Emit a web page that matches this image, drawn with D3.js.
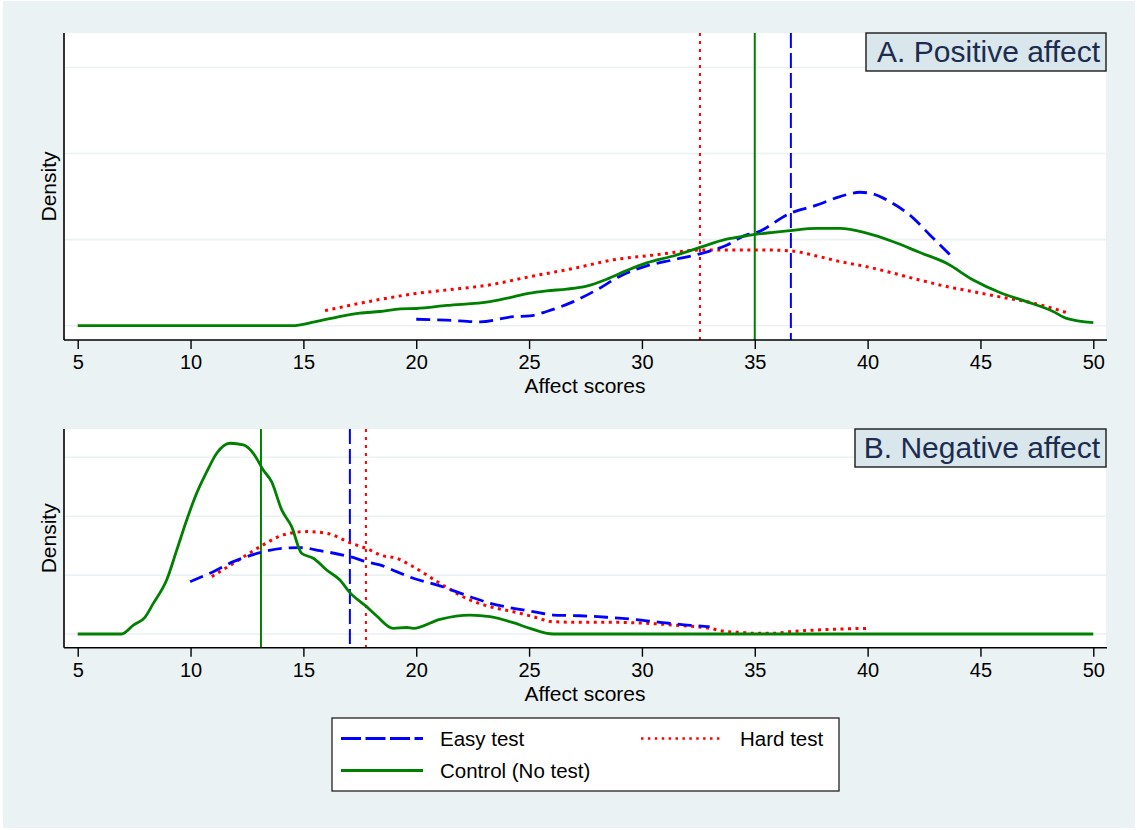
<!DOCTYPE html>
<html>
<head>
    <meta charset="UTF-8">
    <title>Affect score densities</title>
    <style type="text/css">
        body { margin: 0; background: #ffffff; }
        text { font-family: "Liberation Sans", Arial, sans-serif; }
    </style>
    <script src="https://d3js.org/d3.v7.min.js"></script>
</head>
<body>
<script type="text/javascript">
    // x ticks shared by both panels
    var xTicks = [5, 10, 15, 20, 25, 30, 35, 40, 45, 50];

    // panel A: positive affect, [score, density]
    var posEasy = [[20.0, 0.0015], [21.35, 0.0013], [22.83, 0.0009], [24.3, 0.0021], [25.04, 0.0023],
        [25.78, 0.0033], [26.96, 0.0056], [27.99, 0.0083], [29.03, 0.0115], [30.21, 0.0139],
        [31.39, 0.0153], [32.57, 0.0167], [33.75, 0.0187], [34.64, 0.0211], [35.0, 0.0215],
        [36.56, 0.0261], [37.74, 0.0280], [38.78, 0.0300], [39.66, 0.0310], [40.25, 0.0306],
        [40.99, 0.0288], [41.87, 0.0257], [42.76, 0.0211], [43.8, 0.0157]];
    var posHard = [[15.96, 0.0035], [18.39, 0.0061], [20.0, 0.0075], [21.35, 0.0083], [23.27, 0.0095],
        [25.04, 0.0114], [26.96, 0.0133], [28.73, 0.0153], [30.5, 0.0164], [31.69, 0.0172],
        [32.57, 0.0176], [35.23, 0.0176], [36.56, 0.0174], [37.74, 0.0162], [38.78, 0.0149],
        [39.96, 0.0137], [41.14, 0.0122], [42.32, 0.0106], [43.5, 0.0091], [44.68, 0.0079],
        [45.86, 0.0067], [47.04, 0.0056], [48.22, 0.0040], [48.89, 0.0029]];
    var posControl = [[5, 0], [10, 0], [14.5, 0], [15.5, 0.0009], [16.5, 0.0020], [17.5, 0.0029],
        [18.4, 0.0033], [19.3, 0.0039], [20.0, 0.0040], [21.35, 0.0047], [23.27, 0.0056],
        [24.3, 0.0067], [24.97, 0.0075], [25.78, 0.0081], [26.67, 0.0085], [27.55, 0.0092],
        [28.44, 0.0108], [29.32, 0.0128], [30.21, 0.0146], [31.39, 0.0162], [32.57, 0.0182],
        [33.75, 0.0201], [34.64, 0.0209], [35.0, 0.0212], [35.82, 0.0217], [36.56, 0.0221],
        [37.74, 0.0226], [38.78, 0.0226], [39.96, 0.0215], [41.14, 0.0195], [42.32, 0.0170],
        [43.5, 0.0145], [44.68, 0.0106], [45.86, 0.0077], [47.04, 0.0056], [48.22, 0.0033],
        [48.81, 0.0017], [50.0, 0.0007]];
    var posMeans = {easy: 36.6, hard: 32.57, control: 35.0};
    var posGrid = [0, 0.02, 0.04, 0.06];

    // panel B: negative affect
    var negEasy = [[9.98, 0.0444], [11.01, 0.0529], [11.9, 0.0614], [13.08, 0.0690], [14.11, 0.0728],
        [14.85, 0.0733], [15.74, 0.0707], [17.06, 0.0656], [17.95, 0.0605], [18.39, 0.0586],
        [19.13, 0.0529], [19.87, 0.0473], [21.05, 0.0408], [22.38, 0.0317], [23.27, 0.0261],
        [24.3, 0.0218], [25.18, 0.0190], [26.07, 0.0161], [27.25, 0.0155], [28.44, 0.0142],
        [29.62, 0.0125], [30.8, 0.0099], [31.98, 0.0076], [33.0, 0.0062]];
    var negHard = [[10.94, 0.0487], [11.9, 0.0600], [13.08, 0.0741], [14.11, 0.0841], [15.15, 0.0869],
        [16.03, 0.0855], [17.06, 0.0775], [17.95, 0.0713], [18.39, 0.0671], [19.13, 0.0643],
        [19.87, 0.0571], [21.05, 0.0430], [22.38, 0.0289], [23.27, 0.0232], [24.3, 0.0189],
        [25.18, 0.0147], [26.07, 0.0104], [27.25, 0.0099], [28.73, 0.0099], [30.21, 0.0091],
        [31.39, 0.0076], [33.0, 0.0048], [33.75, 0.0020], [34.35, 0.0014], [35.0, 0.0006],
        [35.82, 0.0006], [36.56, 0.0020], [37.74, 0.0034], [38.78, 0.0042], [40.03, 0.0048]];
    var negControl = [[5, 0], [6.95, 0], [7.47, 0.0076], [7.98, 0.0142], [8.35, 0.0260], [8.94, 0.0458],
        [9.39, 0.0713], [9.83, 0.0968], [10.27, 0.1194], [10.72, 0.1378], [11.16, 0.1534],
        [11.75, 0.1619], [12.34, 0.1605], [12.78, 0.1534], [13.22, 0.1392], [13.59, 0.1293],
        [14.04, 0.1053], [14.48, 0.0911], [14.92, 0.0685], [15.44, 0.0643], [16.03, 0.0543],
        [16.62, 0.0458], [17.06, 0.0351], [17.8, 0.0232], [18.25, 0.0153], [18.98, 0.0048],
        [19.58, 0.0055], [19.87, 0.0048], [21.05, 0.0125], [22.38, 0.0161], [23.27, 0.0147],
        [24.3, 0.0096], [25.04, 0.0048], [26.07, 0], [30, 0], [40, 0], [50, 0]];
    var negMeans = {easy: 17.06, hard: 17.77, control: 13.12};
    var negGrid = [0, 0.05, 0.10, 0.15];

    var legendLabels = ["Easy test", "Hard test", "Control (No test)"];

    var W = 1137, H = 830;
    var styles = {
        easy: {color: "#0000ff", dash: "14,7", dashV: "15,5"},
        hard: {color: "#ff0000", dash: "3,4.5", dashV: "3,5"},
        control: {color: "#008000", dash: null, dashV: null}
    };

    var svg = d3.select("body").append("svg")
        .attr("width", W)
        .attr("height", H);

    // graph region background
    svg.append("rect")
        .attr("x", 3).attr("y", 1)
        .attr("width", W - 5).attr("height", H - 3)
        .attr("fill", "#eaf2f3");

    function drawPanel(opt) {
        var x = d3.scaleLinear().domain([5, 50]).range([77.7, 1093.3]);
        var y = d3.scaleLinear().domain(opt.yDomain).range([opt.bottom, opt.top]);
        var left = 64, right = 1106;

        svg.append("rect")
            .attr("x", left).attr("y", opt.top)
            .attr("width", right - left).attr("height", opt.bottom - opt.top)
            .attr("fill", "#ffffff");

        // horizontal grid
        svg.append("g").selectAll("line")
            .data(opt.grid)
            .enter().append("line")
            .attr("x1", left).attr("x2", right)
            .attr("y1", function(d) { return y(d); })
            .attr("y2", function(d) { return y(d); })
            .attr("stroke", "#eaf2f3")
            .attr("stroke-width", 1.6);

        var line = d3.line()
            .x(function(d) { return x(d[0]); })
            .y(function(d) { return y(d[1]); })
            .curve(d3.curveMonotoneX);

        // mean lines
        ["hard", "control", "easy"].forEach(function(k) {
            svg.append("line")
                .attr("x1", x(opt.means[k])).attr("x2", x(opt.means[k]))
                .attr("y1", opt.top).attr("y2", opt.bottom)
                .attr("stroke", styles[k].color)
                .attr("stroke-width", 2)
                .attr("stroke-dasharray", styles[k].dashV);
        });

        // density curves
        [["hard", opt.hard], ["easy", opt.easy], ["control", opt.control]].forEach(function(s) {
            svg.append("path")
                .datum(s[1])
                .attr("d", line)
                .attr("fill", "none")
                .attr("stroke", styles[s[0]].color)
                .attr("stroke-width", s[0] == "hard" ? 3 : 2.8)
                .attr("stroke-dasharray", styles[s[0]].dash);
        });

        // axes
        var xAxis = svg.append("g")
            .attr("transform", "translate(0," + opt.bottom + ")")
            .call(d3.axisBottom(x).tickValues(xTicks).tickSize(9).tickPadding(6));
        xAxis.select(".domain").remove();
        xAxis.selectAll("line").attr("stroke", "#000").attr("stroke-width", 1.4);
        xAxis.selectAll("text")
            .attr("font-size", 20)
            .attr("fill", "#000")
            .style("font-family", "Liberation Sans, Arial, sans-serif");

        svg.append("line")
            .attr("x1", left).attr("x2", right + 1)
            .attr("y1", opt.bottom).attr("y2", opt.bottom)
            .attr("stroke", "#000").attr("stroke-width", 1.6);
        svg.append("line")
            .attr("x1", left).attr("x2", left)
            .attr("y1", opt.top).attr("y2", opt.bottom)
            .attr("stroke", "#000").attr("stroke-width", 1.6);

        svg.append("text")
            .attr("x", 585)
            .attr("y", opt.bottom + 53)
            .attr("text-anchor", "middle")
            .attr("font-size", 21)
            .text("Affect scores");

        svg.append("text")
            .attr("transform", "translate(56," + ((opt.top + opt.bottom) / 2) + ") rotate(-90)")
            .attr("text-anchor", "middle")
            .attr("font-size", 21)
            .text("Density");

        // panel title box
        svg.append("rect")
            .attr("x", opt.boxX).attr("y", opt.top)
            .attr("width", right - opt.boxX).attr("height", 38)
            .attr("fill", "#d9e6eb")
            .attr("stroke", "#1a1a1a")
            .attr("stroke-width", 1.4);
        svg.append("text")
            .attr("x", right - 6)
            .attr("y", opt.top + 29)
            .attr("text-anchor", "end")
            .attr("font-size", 30)
            .attr("fill", "#1c2c4f")
            .text(opt.title);
    }

    drawPanel({
        top: 33, bottom: 340, yDomain: [-0.00332, 0.068],
        grid: posGrid, easy: posEasy, hard: posHard, control: posControl,
        means: posMeans, title: "A. Positive affect", boxX: 866
    });
    drawPanel({
        top: 429, bottom: 647.7, yDomain: [-0.01163, 0.174],
        grid: negGrid, easy: negEasy, hard: negHard, control: negControl,
        means: negMeans, title: "B. Negative affect", boxX: 855
    });

    // legend
    var lg = svg.append("g");
    lg.append("rect")
        .attr("x", 332).attr("y", 718)
        .attr("width", 507).attr("height", 73)
        .attr("fill", "#ffffff")
        .attr("stroke", "#111")
        .attr("stroke-width", 1.2);
    var items = [
        {key: "easy", label: legendLabels[0], x: 341, y: 738.5, dash: "20,4.5"},
        {key: "hard", label: legendLabels[1], x: 641, y: 738.5, dash: "2.5,4.4"},
        {key: "control", label: legendLabels[2], x: 341, y: 770.5, dash: null}
    ];
    items.forEach(function(d) {
        lg.append("line")
            .attr("x1", d.x).attr("x2", d.x + 82)
            .attr("y1", d.y).attr("y2", d.y)
            .attr("stroke", styles[d.key].color)
            .attr("stroke-width", d.key == "hard" ? 2.5 : 2.8)
            .attr("stroke-dasharray", d.dash);
        lg.append("text")
            .attr("x", d.x + 99)
            .attr("y", d.y + 7.5)
            .attr("font-size", 20.5)
            .text(d.label);
    });
</script>
</body>
</html>
